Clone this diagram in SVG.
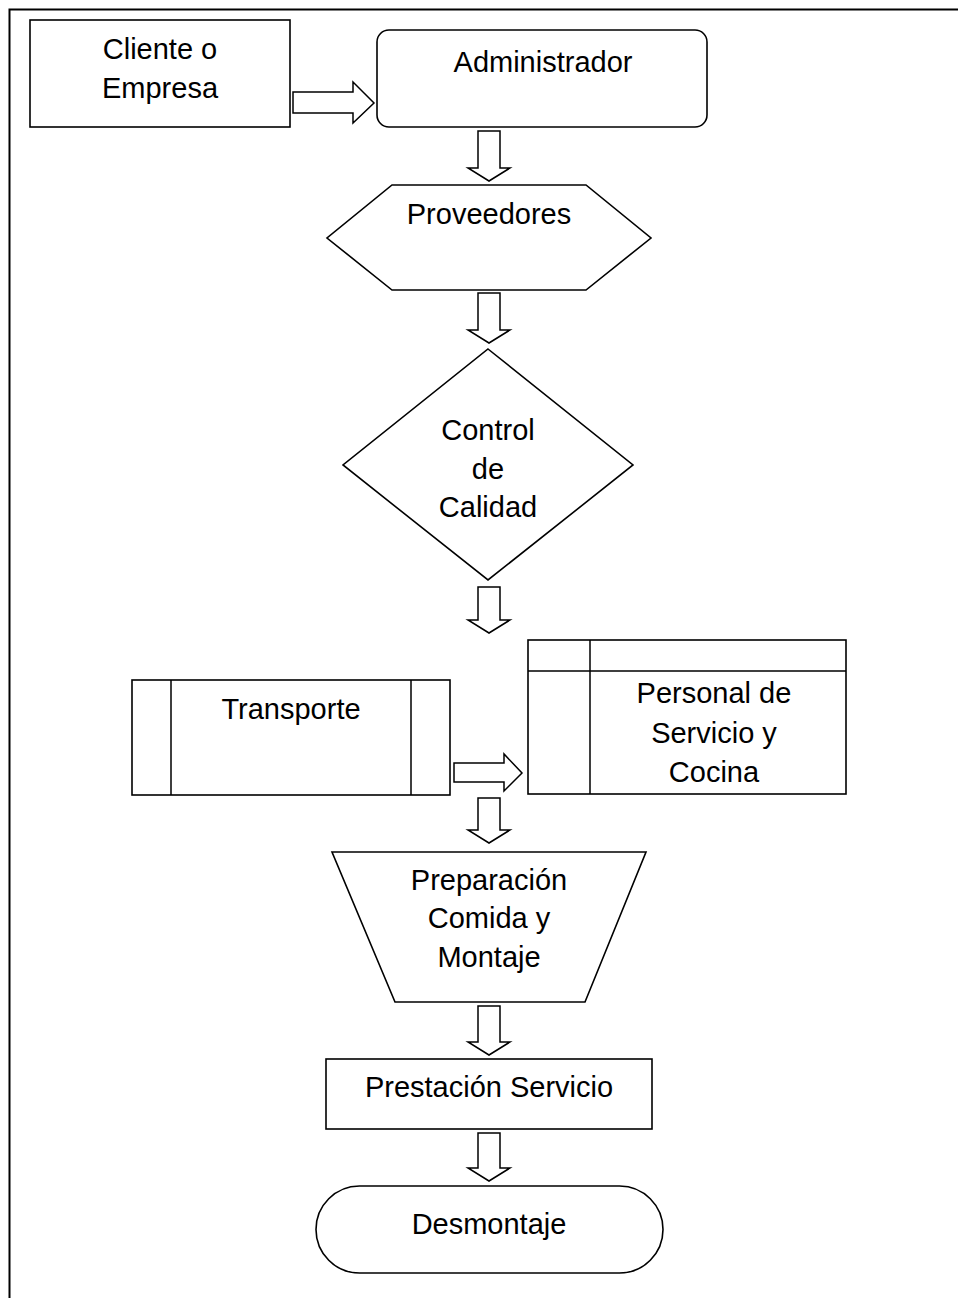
<svg xmlns="http://www.w3.org/2000/svg" width="958" height="1298" viewBox="0 0 958 1298">
<style>
.s{fill:#fff;stroke:#000;stroke-width:1.6}
.a{fill:#fff;stroke:#000;stroke-width:1.5;stroke-linejoin:miter}
.l{fill:none;stroke:#000;stroke-width:1.5}
text{font-family:"Liberation Sans",Arial,sans-serif;font-size:29px;fill:#000;text-anchor:middle}
</style>
<rect width="958" height="1298" fill="#fff"/>
<g id="frame"><path d="M9.5,1298 V9.5 H958" fill="none" stroke="#000" stroke-width="2"/></g>
<g id="connectors">
<polygon class="a" points="293,92 353,92 353,82 374,103 353,123 353,113 293,113"/>
<polygon class="a" points="478,131 500,131 500,168 510,168 489,181 468,168 478,168"/>
<polygon class="a" points="478,293 500,293 500,330 510,330 489,343 468,330 478,330"/>
<polygon class="a" points="478,587 500,587 500,620 510,620 489,633 468,620 478,620"/>
<polygon class="a" points="454,763 504,763 504,754 522,773 504,791 504,782 454,782"/>
<polygon class="a" points="478,798 500,798 500,830 510,830 489,843 468,830 478,830"/>
<polygon class="a" points="478,1006 500,1006 500,1042 510,1042 489,1055 468,1042 478,1042"/>
<polygon class="a" points="478,1133 500,1133 500,1168 510,1168 489,1181 468,1168 478,1168"/>
</g>
<g id="cliente"><rect class="s" x="30" y="20" width="260" height="107"/><text x="160" y="59">Cliente o</text><text x="160" y="98">Empresa</text></g>
<g id="administrador"><rect class="s" x="377" y="30" width="330" height="97" rx="12"/><text x="543" y="72">Administrador</text></g>
<g id="proveedores"><polygon class="s" points="392,185 586,185 651,238 586,290 392,290 327,238"/><text x="489" y="224">Proveedores</text></g>
<g id="control"><polygon class="s" points="488,349 633,465 488,580 343,465"/><text x="488" y="440">Control</text><text x="488" y="479">de</text><text x="488" y="517">Calidad</text></g>
<g id="transporte"><rect class="s" x="132" y="680" width="318" height="115"/><path class="l" d="M171,680 V795 M411,680 V795"/><text x="291" y="719">Transporte</text></g>
<g id="personal"><rect class="s" x="528" y="640" width="318" height="154"/><path class="l" d="M528,671 H846 M590,640 V794"/><text x="714" y="703">Personal de</text><text x="714" y="743">Servicio y</text><text x="714" y="782">Cocina</text></g>
<g id="preparacion"><polygon class="s" points="332,852 646,852 585,1002 395,1002"/><text x="489" y="890">Preparación</text><text x="489" y="928">Comida y</text><text x="489" y="967">Montaje</text></g>
<g id="prestacion"><rect class="s" x="326" y="1059" width="326" height="70"/><text x="489" y="1097">Prestación Servicio</text></g>
<g id="desmontaje"><rect class="s" x="316" y="1186" width="347" height="87" rx="43.5"/><text x="489" y="1234">Desmontaje</text></g>
</svg>
